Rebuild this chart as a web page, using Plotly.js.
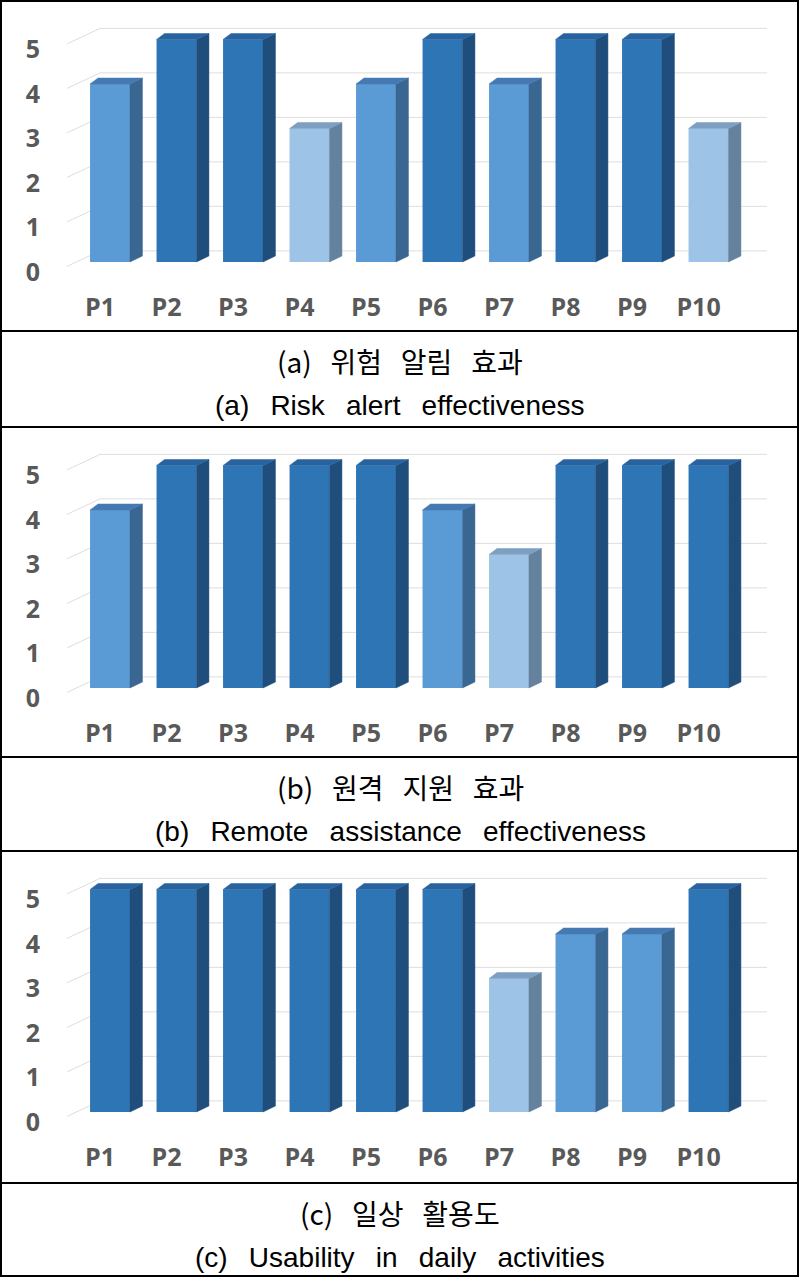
<!DOCTYPE html>
<html>
<head>
<meta charset="utf-8">
<script src="https://cdn.plot.ly/plotly-3.0.1.min.js"></script>
<style>
  html, body { margin: 0; padding: 0; background: #ffffff; }
  #chart { width: 800px; height: 1277px; }
</style>
</head>
<body>
<div id="chart"></div>
<script>
// Participant scores (1-5) for the three evaluation items
const categories = ['P1', 'P2', 'P3', 'P4', 'P5', 'P6', 'P7', 'P8', 'P9', 'P10'];
const riskAlert = [4, 5, 5, 3, 4, 5, 4, 5, 5, 3];
const remoteAssist = [4, 5, 5, 5, 5, 4, 3, 5, 5, 5];
const dailyUsability = [5, 5, 5, 5, 5, 5, 3, 4, 4, 5];
const yTicks = [0, 1, 2, 3, 4, 5];
const captionsKo = ['(a) 위험 알림 효과', '(b) 원격 지원 효과', '(c) 일상 활용도'];
const captionsEn = ['(a) Risk alert effectiveness', '(b) Remote assistance effectiveness', '(c) Usability in daily activities'];

const panels = [riskAlert, remoteAssist, dailyUsability];

// ---- page geometry (pixels) ----
const W = 800, H = 1277;
const panelTop = [0, 426, 850];      // top of each panel block
const captionTop = [331, 757, 1183]; // line separating chart from caption
const PX_PER_CAT = 66.5;             // horizontal pixels per category
const PX_PER_UNIT = 44.5;            // vertical pixels per score unit
const BAR_W = 0.6;                   // front face width (category units)
const DX_R = 12.5 / PX_PER_CAT;      // depth shift of the right edge
const DX_L = 8 / PX_PER_CAT;         // depth shift of the left top edge
const DY = 6 / PX_PER_UNIT;          // depth rise
const WALL_DY = 0.25;                // back wall offset of gridlines
const SLANT_DY = -0.1;               // front end of the slanted side-wall gridlines
const WALL_X0 = -0.15, WALL_X1 = 9.88, SLANT_X = -0.647;

// colour set for each score level: front, side, top
const palette = {
  5: { front: '#2E75B6', side: '#1F4E7C', top: '#2863A0' },
  4: { front: '#5B9BD5', side: '#3A6692', top: '#4479B2' },
  3: { front: '#9DC3E6', side: '#64819E', top: '#7F9FC2' }
};

const py = p => 1 - p / H;
const px = p => p / W;

const traces = [];
const layout = {
  width: W, height: H,
  margin: { l: 0, r: 0, t: 0, b: 0 },
  paper_bgcolor: '#ffffff',
  plot_bgcolor: 'rgba(0,0,0,0)',
  showlegend: false,
  shapes: [],
  annotations: []
};

const tickFont = { family: 'Open Sans, Noto Sans, sans-serif', size: 25, color: '#595959', weight: 'bold' };

panels.forEach((vals, k) => {
  const sfx = k === 0 ? '' : String(k + 1);
  const xa = 'x' + sfx, ya = 'y' + sfx;
  const off = panelTop[k];
  const idx = categories.map((_, i) => i);

  // x: bar i centred at pixel 110 + 66.5 i; domain from px 50 to 796
  layout['xaxis' + sfx] = {
    domain: [px(50), px(796)],
    range: [(50 - 110) / PX_PER_CAT, (796 - 110) / PX_PER_CAT],
    anchor: ya,
    tickmode: 'array',
    tickvals: idx.map(i => i - 0.15),
    ticktext: categories,
    showgrid: false, zeroline: false, showline: false, ticks: '',
    ticklabelstandoff: 5,
    tickfont: tickFont,
    fixedrange: true
  };
  // y: score 0 at pixel off+262; domain from px off+5 to off+285
  layout['yaxis' + sfx] = {
    domain: [py(off + 285), py(off + 5)],
    range: [(262 - 285) / PX_PER_UNIT, (262 - 5) / PX_PER_UNIT],
    anchor: xa,
    tickmode: 'array',
    tickvals: yTicks,
    ticktext: yTicks.map(String),
    ticklabelshift: 10,
    ticklabelstandoff: 9,
    showgrid: false, zeroline: false, showline: false, ticks: '',
    tickfont: tickFont,
    fixedrange: true
  };

  // gridlines on the back wall plus slanted side-wall segments, kept under the bars
  yTicks.forEach(v => {
    layout.shapes.push({
      type: 'path', xref: xa, yref: ya, layer: 'below',
      path: `M${SLANT_X},${v + SLANT_DY} L${WALL_X0},${v + WALL_DY} L${WALL_X1},${v + WALL_DY}`,
      line: { color: '#DEDEDE', width: 1 }
    });
  });

  // front faces
  traces.push({
    type: 'bar', x: idx, y: vals, width: BAR_W, xaxis: xa, yaxis: ya,
    marker: { color: vals.map(v => palette[v].front), line: { width: 0 } },
    hoverinfo: 'skip'
  });

  // side and top faces
  vals.forEach((v, i) => {
    const L = i - BAR_W / 2, R = i + BAR_W / 2;
    traces.push({
      type: 'scatter', mode: 'lines', xaxis: xa, yaxis: ya,
      x: [R, R + DX_R, R + DX_R, R, R],
      y: [0, DY, v + DY, v, 0],
      fill: 'toself', fillcolor: palette[v].side,
      line: { width: 0.5, color: palette[v].side }, hoverinfo: 'skip'
    });
    traces.push({
      type: 'scatter', mode: 'lines', xaxis: xa, yaxis: ya,
      x: [L, L + DX_L, R + DX_R, R, L],
      y: [v, v + DY, v + DY, v, v],
      fill: 'toself', fillcolor: palette[v].top,
      line: { width: 0.5, color: palette[v].top }, hoverinfo: 'skip'
    });
  });

  // captions
  const koGap = '\u00A0'.repeat(3);
  const enGap = '\u00A0\u00A0\u2009';
  layout.annotations.push({
    xref: 'paper', yref: 'paper', x: 0.5, y: py(captionTop[k] + 30),
    xanchor: 'center', yanchor: 'middle', showarrow: false,
    text: captionsKo[k].split(' ').join(koGap),
    font: { family: 'Noto Sans CJK KR, sans-serif', size: 28, color: '#000000' }
  });
  layout.annotations.push({
    xref: 'paper', yref: 'paper', x: 0.5, y: py(captionTop[k] + 74),
    xanchor: 'center', yanchor: 'middle', showarrow: false,
    text: captionsEn[k].split(' ').join(enGap),
    font: { family: 'Liberation Sans, Arial, sans-serif', size: 28, color: '#000000' }
  });
});

// outer frame and separators
const frame = { color: '#000000', width: 2 };
layout.shapes.push({ type: 'rect', xref: 'paper', yref: 'paper',
  x0: px(1), x1: px(798), y0: py(1276), y1: py(1), line: frame });
[331, 427, 757, 851, 1183].forEach(p => {
  layout.shapes.push({ type: 'line', xref: 'paper', yref: 'paper',
    x0: px(1), x1: px(798), y0: py(p), y1: py(p), line: frame });
});

Plotly.newPlot('chart', traces, layout, { displayModeBar: false, staticPlot: true });
</script>
</body>
</html>
